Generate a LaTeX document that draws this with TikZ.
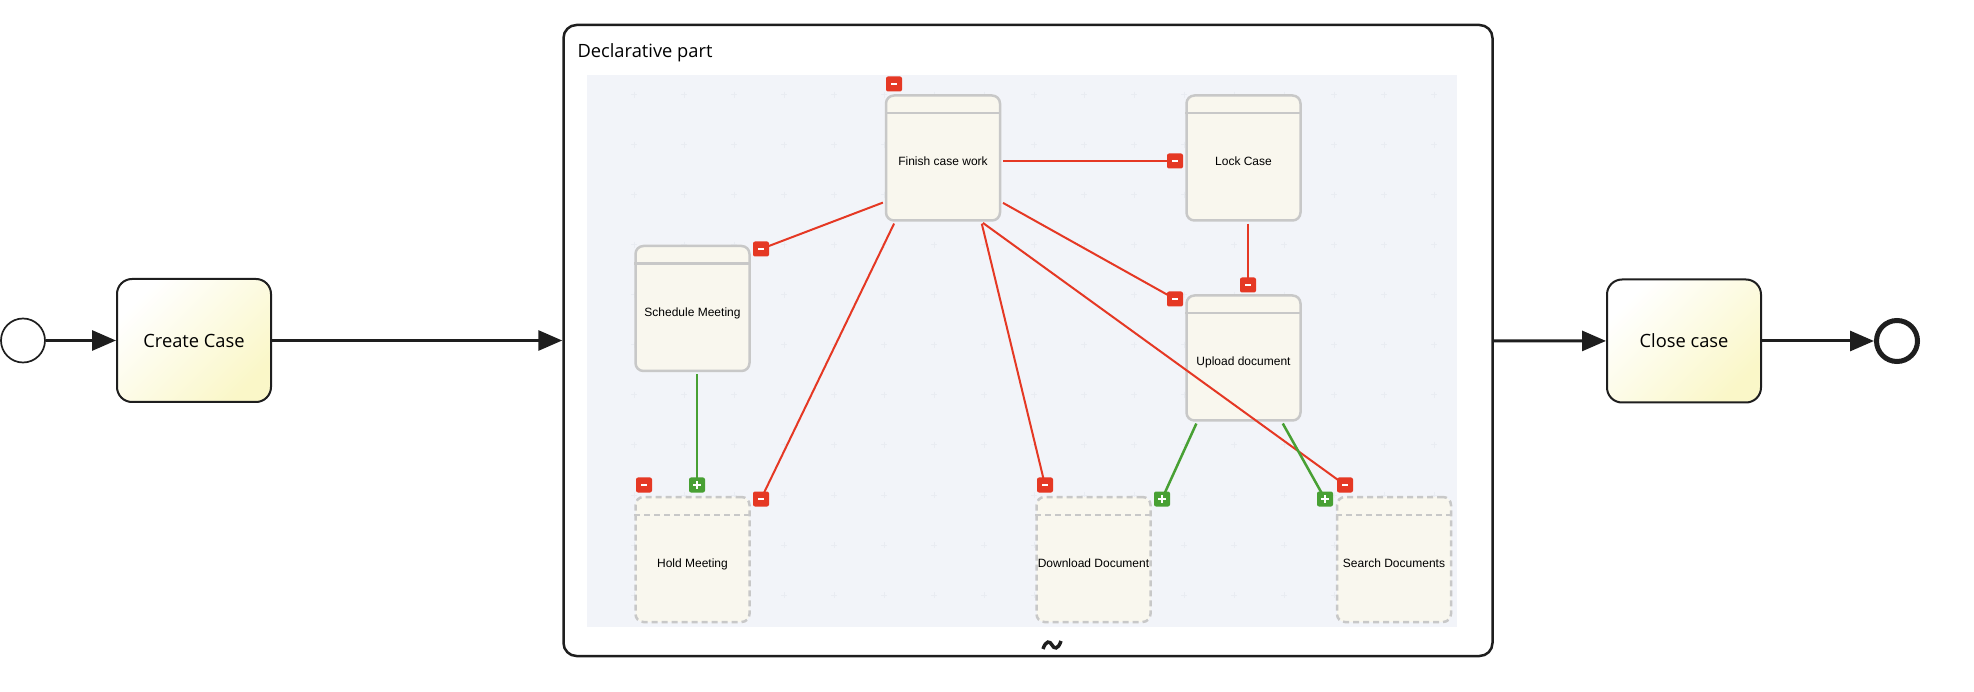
\documentclass[tikz,border=0pt]{standalone}
\usepackage{fontspec}
\setmainfont{Open Sans}
\newfontfamily\arialfont{Liberation Sans}
\usepackage{tikz}
\usetikzlibrary{arrows.meta}
\usetikzlibrary{calc}
\definecolor{taskyellow}{RGB}{250,247,200}
\definecolor{cream}{RGB}{249,247,238}
\definecolor{boxgray}{RGB}{200,200,200}
\definecolor{areablue}{RGB}{242,244,249}
\definecolor{gridgray}{RGB}{233,236,242}
\definecolor{negred}{RGB}{229,56,36}
\definecolor{posgreen}{RGB}{72,160,52}
\definecolor{ink}{RGB}{30,30,30}
\pgfdeclarelayer{front}
\pgfsetlayers{main,front}
\tikzstyle{event}=[circle,draw=ink,fill=white,minimum size=44pt,inner sep=0pt]
\tikzstyle{task}=[rectangle,rounded corners=15pt,draw=ink,line width=2pt,top color=white,bottom color=taskyellow,shading angle=45,minimum width=154pt,minimum height=123pt,font=\fontsize{18.3}{22}\selectfont]
\tikzstyle{container}=[rectangle,rounded corners=13pt,draw=ink,line width=2.5pt,fill=white,minimum width=929pt,minimum height=631pt]
\tikzstyle{activity}=[rectangle,rounded corners=8pt,draw=boxgray,line width=2.5pt,fill=cream,minimum width=114pt,minimum height=125pt,inner sep=0pt,text height=16pt,text depth=0pt,font=\arialfont\fontsize{12}{14}\selectfont]
\tikzstyle{optional}=[activity,dash pattern=on 6pt off 4pt]
\tikzstyle{header}=[draw=boxgray,line width=2.5pt]
\tikzstyle{optheader}=[header,dash pattern=on 6pt off 4pt]
\tikzstyle{flow}=[draw=ink,line width=3pt,-{Triangle[length=24pt,width=20pt]}]
\tikzstyle{negedge}=[draw=negred,line width=2pt,shorten <=2pt]
\tikzstyle{posedge}=[draw=posgreen,line width=2.5pt,shorten <=2pt]
\tikzstyle{gridmark}=[draw=gridgray,line width=1pt]
\tikzstyle{minusbox}=[rectangle,rounded corners=2pt,fill=negred,minimum width=16pt,minimum height=15pt,inner sep=0pt,
  path picture={\draw[white,line width=2.2pt] ([xshift=-3pt]path picture bounding box.center) -- ([xshift=3pt]path picture bounding box.center);}]
\tikzstyle{plusbox}=[rectangle,rounded corners=2pt,fill=posgreen,minimum width=16pt,minimum height=15pt,inner sep=0pt,
  path picture={\draw[white,line width=1.5pt] ([xshift=-4pt]path picture bounding box.center) -- ([xshift=4pt]path picture bounding box.center)
    ([yshift=-4pt]path picture bounding box.center) -- ([yshift=4pt]path picture bounding box.center);}]

\begin{document}
\begin{tikzpicture}[x=1pt,y=-1pt]
\useasboundingbox (0,0) rectangle (1974,692);

    % Outer process
    \node[event,line width=1.7pt] (start) at (23,340.5) {};
    \node[task] (create) at (194,340.5) {Create Case};
    \node[container] (decl) at (1028,340.5) {};
    \node[task] (close) at (1684,341) {Close case};
    \node[event,line width=5pt,minimum size=41pt] (end) at (1897,341) {};
    \node[anchor=base west,font=\fontsize{18.3}{22}\selectfont] (decllabel) at (574,58) {Declarative part};

    \foreach \source/\dest in {start/create, create/decl, decl/close, close/end}
        \draw[flow] (\source) -- (\dest);

    % Declarative canvas with its dot grid
    \node[fill=areablue,minimum width=870pt,minimum height=552pt,inner sep=0pt] (canvas) at (1022,351) {};
    \foreach \x in {634,684,...,1434}
        \foreach \y in {95,145,...,595}
            \draw[gridmark] (\x-3,\y) -- (\x+3,\y) (\x,\y-3) -- (\x,\y+3);

    % Activities
    \foreach \pos/\name/\label in {{(943,158)/finish/Finish case work}, {(1243.5,158)/lock/Lock Case}, {(692.5,308.5)/sched/Schedule Meeting}, {(1243.5,358)/upload/Upload document}}
        \node[activity] (\name) at \pos {\label};
    \foreach \pos/\name/\label in {{(692.5,559.5)/hold/Hold Meeting}, {(1093.5,559.5)/download/Download Document}, {(1394,559.5)/search/Search Documents}}
        \node[optional] (\name) at \pos {\label};

    \foreach \name in {finish, lock, sched, upload}
        \draw[header] ([yshift=-19pt]\name.north west) -- ([yshift=-19pt]\name.north east);
    \foreach \name in {hold, download, search}
        \draw[optheader] ([yshift=-19pt]\name.north west) -- ([yshift=-19pt]\name.north east);

    % Constraint markers
    \begin{pgfonlayer}{front}
    \foreach \pos/\name in {{(894,84)/mfinish}, {(761,249)/msched}, {(1175,161)/mlock}, {(1175,299)/mupleft}, {(1248,285)/muptop}, {(644,485)/mholdleft}, {(761,499)/mhold}, {(1045,485)/mdown}, {(1345,485)/msearch}}
        \node[minusbox] (\name) at \pos {};
    \foreach \pos/\name in {{(697,485)/phold}, {(1162,499)/pdown}, {(1325,499)/psearch}}
        \node[plusbox] (\name) at \pos {};
    \end{pgfonlayer}

    % Constraints
    \foreach \source/\dest in {finish.217/msched, finish.east |- mlock/mlock, finish.323/mupleft, finish.233/mhold, finish.301/mdown, finish.301/msearch, muptop |- lock.south/muptop}
        \path[negedge] (\source) -- (\dest.center);
    \foreach \source/\dest in {phold |- sched.south/phold, upload.234/pdown, upload.301/psearch}
        \path[posedge] (\source) -- (\dest.center);

    % Loop marker
    \draw[ink,line width=3.5pt] (1043,649) .. controls (1046,640) and (1050,641) .. (1052,645) .. controls (1054,649) and (1058,650) .. (1061,641);

\end{tikzpicture}
\end{document}
